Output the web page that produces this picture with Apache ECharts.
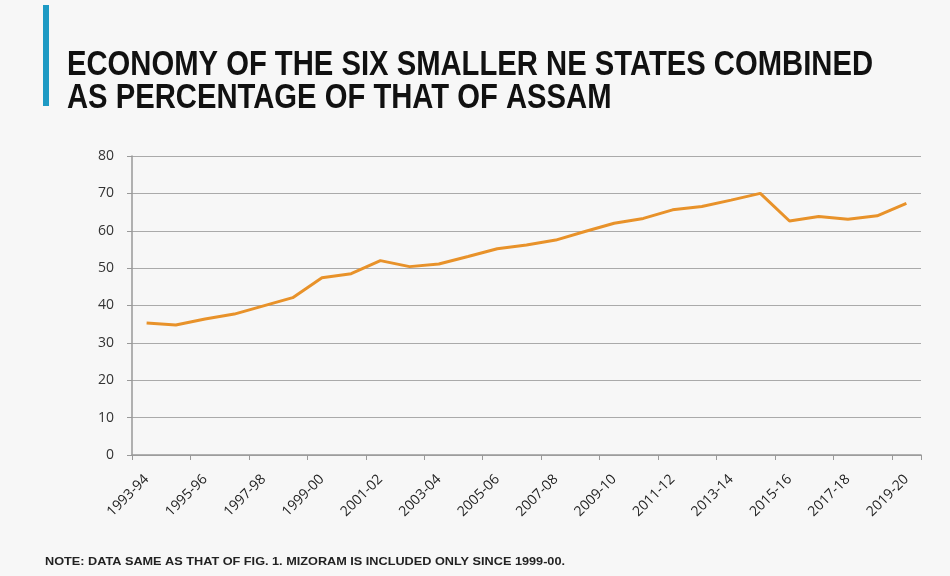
<!DOCTYPE html>
<html><head><meta charset="utf-8">
<script src="https://cdn.jsdelivr.net/npm/echarts@6/dist/echarts.min.js"></script>
<style>html,body{margin:0;padding:0;background:#f7f7f7}#c{width:950px;height:576px}</style>
</head><body><div id="c"></div>
<script>
const categories = ['1993-94','1994-95','1995-96','1996-97','1997-98','1998-99','1999-00','2000-01','2001-02','2002-03','2003-04','2004-05','2005-06','2006-07','2007-08','2008-09','2009-10','2010-11','2011-12','2012-13','2013-14','2014-15','2015-16','2016-17','2017-18','2018-19','2019-20'];
const values = [35.3,34.8,36.4,37.7,39.9,42.1,47.4,48.5,52.0,50.4,51.1,53.1,55.2,56.2,57.5,59.8,62.0,63.3,65.6,66.5,68.2,70.0,62.6,63.8,63.1,64.0,67.3];
const yTicks = {min:0, max:80, interval:10};
const titleLines = ['ECONOMY OF THE SIX SMALLER NE STATES COMBINED','AS PERCENTAGE OF THAT OF ASSAM'];
const noteText = 'NOTE: DATA SAME AS THAT OF FIG. 1. MIZORAM IS INCLUDED ONLY SINCE 1999-00.';

const ctx = document.createElement('canvas').getContext('2d');
function w(text, font){ctx.font = font; return ctx.measureText(text).width;}
const titleFont = 'bold 35px "Liberation Sans"';
const tScale = 806 / w(titleLines[0], titleFont);
const noteFont = 'bold 11px "Liberation Sans"';
const nScale = 520 / w(noteText, noteFont);

const chart = echarts.init(document.getElementById('c'));
chart.setOption({
  backgroundColor:'#f7f7f7',
  animation:false,
  graphic:[
    {type:'rect',shape:{x:43,y:5,width:6,height:101},style:{fill:'#1e9ac4'}},
    {type:'text',x:67,y:83,scaleX:tScale,style:{x:0,y:0,text:titleLines[0],font:titleFont,fill:'#111',verticalAlign:'bottom'}},
    {type:'text',x:67,y:116,scaleX:tScale,style:{x:0,y:0,text:titleLines[1],font:titleFont,fill:'#111',verticalAlign:'bottom'}},
    {type:'text',x:45,y:562,scaleX:nScale,style:{x:0,y:0,text:noteText,font:noteFont,fill:'#222',verticalAlign:'middle'}}
  ],
  grid:{left:132,right:29,top:156,bottom:121},
  xAxis:{
    type:'category',data:categories,boundaryGap:true,
    axisLine:{lineStyle:{color:'#999',width:1.5}},
    axisTick:{show:true,length:5,lineStyle:{color:'#999'}},
    axisLabel:{interval:1,rotate:45,fontFamily:'Open Sans',fontSize:14,color:'#222',margin:22}
  },
  yAxis:{
    type:'value',min:yTicks.min,max:yTicks.max,interval:yTicks.interval,
    axisLine:{show:true,lineStyle:{color:'#999',width:1.5}},
    axisTick:{show:true,length:5,lineStyle:{color:'#999'}},
    splitLine:{lineStyle:{color:'#aaa',width:1.2}},
    axisLabel:{fontFamily:'Open Sans',fontSize:14,color:'#333',margin:18}
  },
  series:[{type:'line',data:values,symbol:'none',lineStyle:{color:'#e8922a',width:3}}]
});
</script></body></html>
